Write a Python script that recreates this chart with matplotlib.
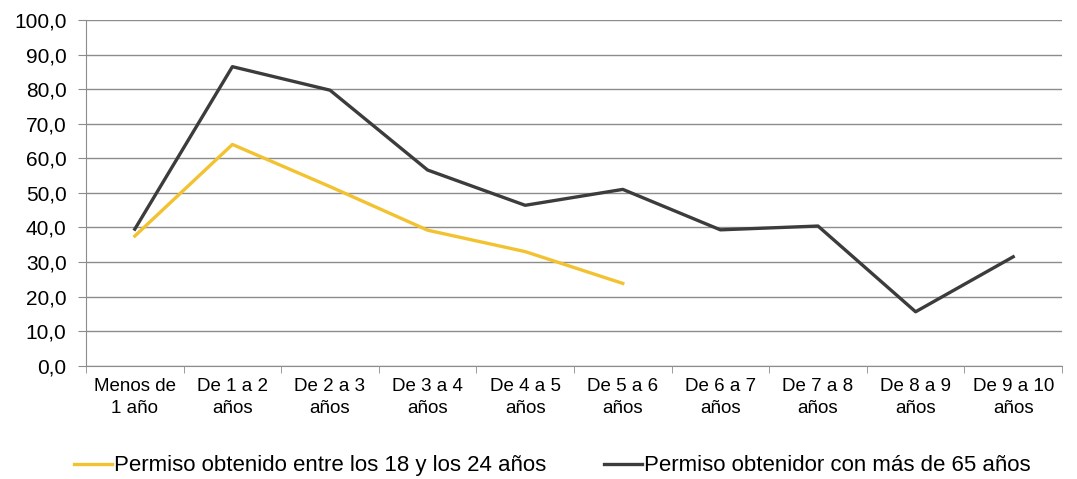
import numpy as np
import matplotlib.pyplot as plt

plt.rcParams['font.family'] = ['Liberation Sans', 'DejaVu Sans']

categorias = ["Menos de\n1 año", "De 1 a 2\naños", "De 2 a 3\naños", "De 3 a 4\naños",
              "De 4 a 5\naños", "De 5 a 6\naños", "De 6 a 7\naños", "De 7 a 8\naños",
              "De 8 a 9\naños", "De 9 a 10\naños"]
jovenes = [37.5, 64.0, 51.8, 39.2, 33.0, 23.8]
mayores = [39.5, 86.5, 79.7, 56.6, 46.4, 51.0, 39.3, 40.4, 15.6, 31.5]

fig = plt.figure(figsize=(10.77, 4.79), dpi=100)
ax = fig.add_axes([86/1077, 1 - 365.7/479, (1062-86)/1077, (365.7-20)/479])

x = np.arange(len(categorias))
ax.plot(x[:len(jovenes)], jovenes, color='#F2C230', lw=2.4,
        label="Permiso obtenido entre los 18 y los 24 años")
ax.plot(x, mayores, color='#3C3C3C', lw=2.4,
        label="Permiso obtenidor con más de 65 años")

ax.set_xlim(-0.5, len(categorias) - 0.5)
ax.set_ylim(0, 100)
ax.set_yticks(np.arange(0, 101, 10))
ax.set_yticklabels([f"{v},0" for v in range(0, 101, 10)], fontsize=15)
ax.yaxis.grid(True, color='#8c8c8c', lw=1)
ax.set_axisbelow(True)

ax.set_xticks(x)
ax.set_xticklabels(categorias, fontsize=13.5, linespacing=1.35)
ax.set_xticks(np.arange(-0.5, len(categorias), 1), minor=True)
ax.tick_params(axis='x', which='major', length=0, pad=9)
ax.tick_params(axis='x', which='minor', length=5, color='#8c8c8c')
ax.tick_params(axis='y', length=6, color='#8c8c8c', pad=8)

for s in ['top', 'right']:
    ax.spines[s].set_visible(False)
for s in ['left', 'bottom']:
    ax.spines[s].set_color('#8c8c8c')

ax.legend(loc='center', bbox_to_anchor=(0.478, -0.29), ncol=2, frameon=False,
          fontsize=16, handlelength=1.7, handletextpad=0.1, columnspacing=2.6)

fig.savefig('out.png', dpi=100)
